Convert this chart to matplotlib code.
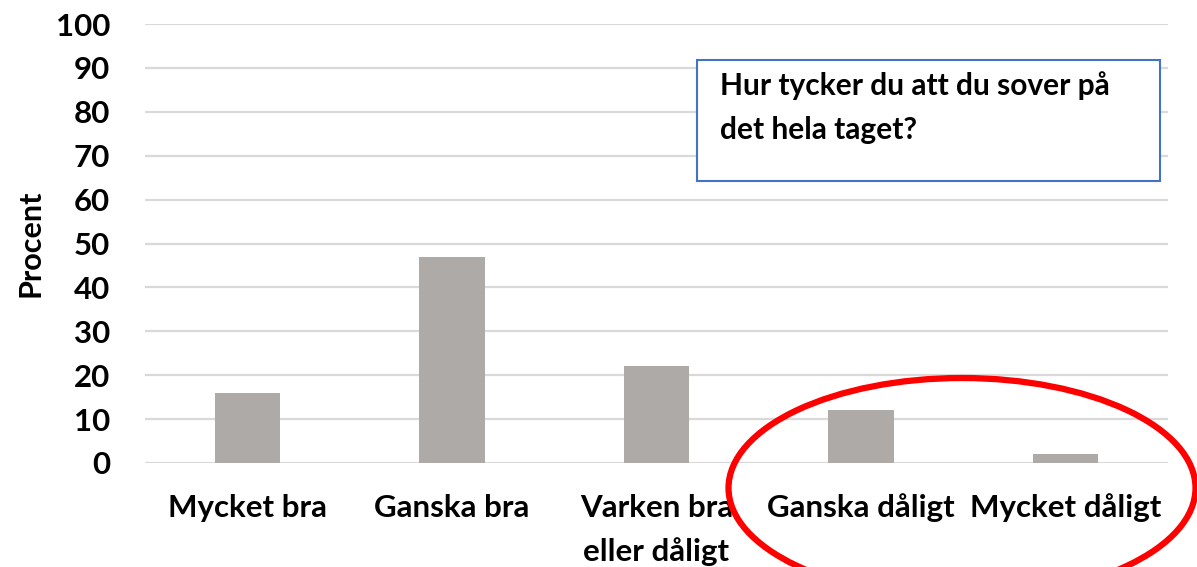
import matplotlib
matplotlib.use('Agg')
from matplotlib import pyplot as plt
from matplotlib.patches import Ellipse

categories = ['Mycket bra', 'Ganska bra', 'Varken bra\neller dåligt', 'Ganska dåligt', 'Mycket dåligt']
values = [16, 47, 22, 12, 2]
yticks = list(range(0, 101, 10))
box_text = 'Hur tycker du att du sover på\ndet hela taget?'

plt.rcParams['font.family'] = ['Lato', 'DejaVu Sans']
plt.rcParams['font.weight'] = 'bold'

W, H = 1197, 567
fig = plt.figure(figsize=(W / 100, H / 100), dpi=100)
ax = fig.add_axes([145 / W, 1 - 463 / H, (1168 - 145) / W, (463 - 24) / H])

x = range(len(categories))
ax.bar(x, values, width=0.32, color='#ADAAA7', zorder=3)
ax.set_xlim(-0.5, len(categories) - 0.5)
ax.set_ylim(0, 100)
ax.set_yticks(yticks)
ax.yaxis.grid(True, color='#D9D9D9', linewidth=1.6, zorder=0)
for s in ax.spines.values():
    s.set_visible(False)
ax.tick_params(axis='y', length=0, labelsize=22.5, pad=25)
ax.tick_params(axis='x', length=0, labelsize=22.5, pad=22)
ax.set_xticks(list(x))
ax.set_xticklabels(categories, fontweight='bold', linespacing=1.65, va='top')
for lab in ax.get_yticklabels():
    lab.set_fontweight('bold')
ax.set_ylabel('Procent', fontsize=22, fontweight='bold')
ax.yaxis.set_label_coords(-0.098, 0.5)

# question box
fig.patches.append(plt.Rectangle((697 / W, 1 - 181 / H), (1160 - 697) / W, (181 - 60) / H,
                                 transform=fig.transFigure, fill=True, facecolor='white',
                                 edgecolor='#4472C4', linewidth=1.5, zorder=1))
fig.text(720 / W, 1 - 108 / H, box_text, fontsize=21.5, fontweight='bold',
         va='center', ha='left', linespacing=1.7, zorder=2)

# red ring round the bad answers
fig.patches.append(Ellipse((962 / W, 1 - 488 / H), 467 / W, 220 / H,
                           transform=fig.transFigure, fill=False,
                           edgecolor='#FF0000', linewidth=4.5, zorder=5))

fig.savefig('out.png', dpi=100)
